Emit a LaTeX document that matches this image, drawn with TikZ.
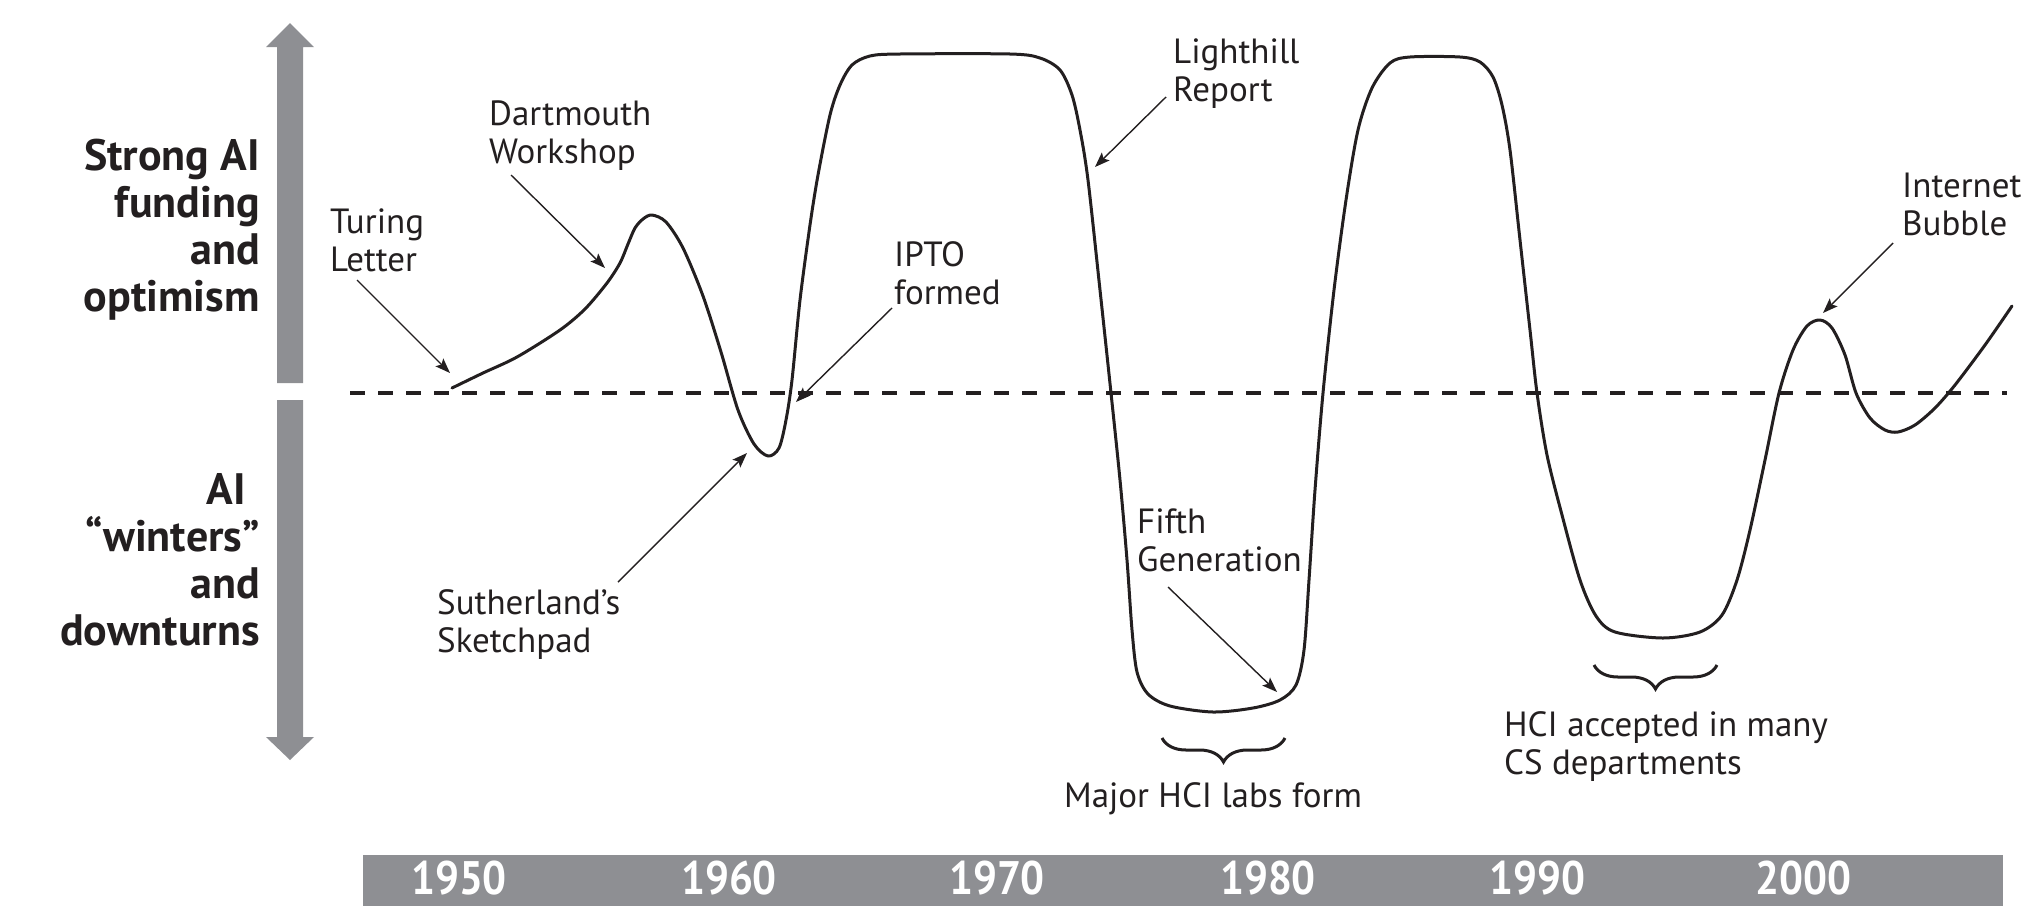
\documentclass[tikz,border=0pt]{standalone}
\usepackage{fontspec}
\setmainfont{PT Sans}
\newfontfamily\yearfont{PT Sans}[FakeStretch=0.9]
\usetikzlibrary{arrows.meta,decorations.pathreplacing}
\definecolor{ink}{RGB}{35,31,32}
\definecolor{bargray}{RGB}{142,143,147}
\begin{document}
\begin{tikzpicture}[x=1pt,y=-1pt,
  note/.style={anchor=north west,inner sep=0pt,align=left,text=ink,
    font=\fontsize{35}{38}\selectfont},
  axislabel/.style={anchor=north east,inner sep=0pt,align=right,text=ink,
    font=\fontsize{44}{47}\selectfont\bfseries},
  year/.style={anchor=base,inner sep=0pt,text=white,
    font=\yearfont\bfseries\fontsize{47}{50}\selectfont},
  pointer/.style={draw=ink,line width=1.4pt,
    -{Stealth[length=15pt,width=11pt,inset=3pt]}},
  trend/.style={draw=ink,line width=3pt,line join=round,line cap=round},
  midline/.style={draw=ink,line width=3.5pt,dash pattern=on 15pt off 13pt},
  bracegrp/.style={draw=ink,line width=3pt,decorate,
    decoration={brace,amplitude=24pt}},
]
\useasboundingbox (0,0) rectangle (2029,906);

% vertical double arrow (optimism up, winters down)
\fill[bargray] (277,383) -- (277,47) -- (266,47) -- (290,23) -- (314,47)
  -- (303,47) -- (303,383) -- cycle;
\fill[bargray] (277,400) -- (277,737) -- (266,737) -- (290,760) -- (314,737)
  -- (303,737) -- (303,400) -- cycle;

\node[axislabel] (up) at (260,139) {Strong AI\\funding\\and\\optimism};
\node[axislabel] (down) at (260,473)
  {AI\hspace*{14pt}\\“winters”\\and\hspace*{14pt}\\downturns};

% neutral level
\coordinate (ml0) at (350,393);
\coordinate (ml1) at (2007,393);
\draw[midline] (ml0) -- (ml1);

% funding curve
\draw[trend] plot[smooth,tension=0.5] coordinates {
  (452,388) (483,373) (517,357) (560,330) (585,309) (607,283) (620,263)
  (628,244) (635,228) (643,219) (652,215) (666,222) (683,248) (703,296)
  (721,352) (738,410) (754,444) (768,456)
  (779,448) (786,420) (792,380) (800,300) (810,225) (818,175) (830,115)
  (840,85) (852,65) (870,56) (900,54)
  (1010,54) (1040,58) (1060,70) (1072,95) (1080,130) (1088,180) (1100,290)
  (1111,393) (1120,480) (1127,560) (1132,630) (1137,672) (1148,694)
  (1170,706) (1213,712) (1253,708) (1280,700) (1296,685) (1304,650)
  (1309,580) (1315,490) (1323,393) (1334,290) (1346,200) (1358,130)
  (1372,88) (1390,63) (1410,57) (1460,57) (1480,62) (1493,77) (1502,105)
  (1510,150) (1520,240) (1530,330) (1537,393) (1547,455) (1562,515)
  (1580,580) (1596,616) (1615,632) (1663,638) (1700,632) (1722,615)
  (1737,580) (1750,530) (1765,460) (1779,393) (1793,350) (1807,326)
  (1820,320) (1832,328) (1845,355) (1856,393) (1870,418) (1885,430)
  (1898,432) (1915,425) (1935,408) (1955,385) (1985,345) (2012,306)};

% event labels
\node[note] (turing) at (330,209) {Turing\\Letter};
\node[note] (dartmouth) at (489,101) {Dartmouth\\Workshop};
\node[note] (ipto) at (894,241) {IPTO\\formed};
\node[note] (sutherland) at (437,589) {Sutherland’s\\Sketchpad};
\node[note] (lighthill) at (1173,39) {Lighthill\\Report};
\node[note] (fifth) at (1137,509) {Fifth\\Generation};
\node[note] (internet) at (1902,173) {Internet\\Bubble};
\node[note] (hciacc) at (1504,711) {HCI accepted in many\\CS departments};
\node[note,anchor=north] (labs) at (1213,782) {Major HCI labs form};

% pointer ends
\coordinate (tl0) at (357,280);   \coordinate (tl1) at (450,373);
\coordinate (dw0) at (511,175);   \coordinate (dw1) at (605,268);
\coordinate (ip0) at (892,308);   \coordinate (ip1) at (796,402);
\coordinate (ss0) at (618,582);   \coordinate (ss1) at (747,453);
\coordinate (lr0) at (1166,97);   \coordinate (lr1) at (1095,167);
\coordinate (fg0) at (1168,587);  \coordinate (fg1) at (1277,692);
\coordinate (ib0) at (1893,243);  \coordinate (ib1) at (1823,313);
\draw[pointer] (tl0) -- (tl1);
\draw[pointer] (dw0) -- (dw1);
\draw[pointer] (ip0) -- (ip1);
\draw[pointer] (ss0) -- (ss1);
\draw[pointer] (lr0) -- (lr1);
\draw[pointer] (fg0) -- (fg1);
\draw[pointer] (ib0) -- (ib1);

% braces over the HCI periods
\coordinate (b1r) at (1285,738); \coordinate (b1l) at (1162,738);
\coordinate (b2r) at (1717,665); \coordinate (b2l) at (1594,665);
\draw[bracegrp] (b1r) -- (b1l);
\draw[bracegrp] (b2r) -- (b2l);

% decade bar
\fill[bargray] (363,855) rectangle (2003,906);
\node[year] (y1950) at (459,894) {1950};
\node[year] (y1960) at (729,894) {1960};
\node[year] (y1970) at (997,894) {1970};
\node[year] (y1980) at (1268,894) {1980};
\node[year] (y1990) at (1537,894) {1990};
\node[year] (y2000) at (1803,894) {2000};
\end{tikzpicture}
\end{document}
